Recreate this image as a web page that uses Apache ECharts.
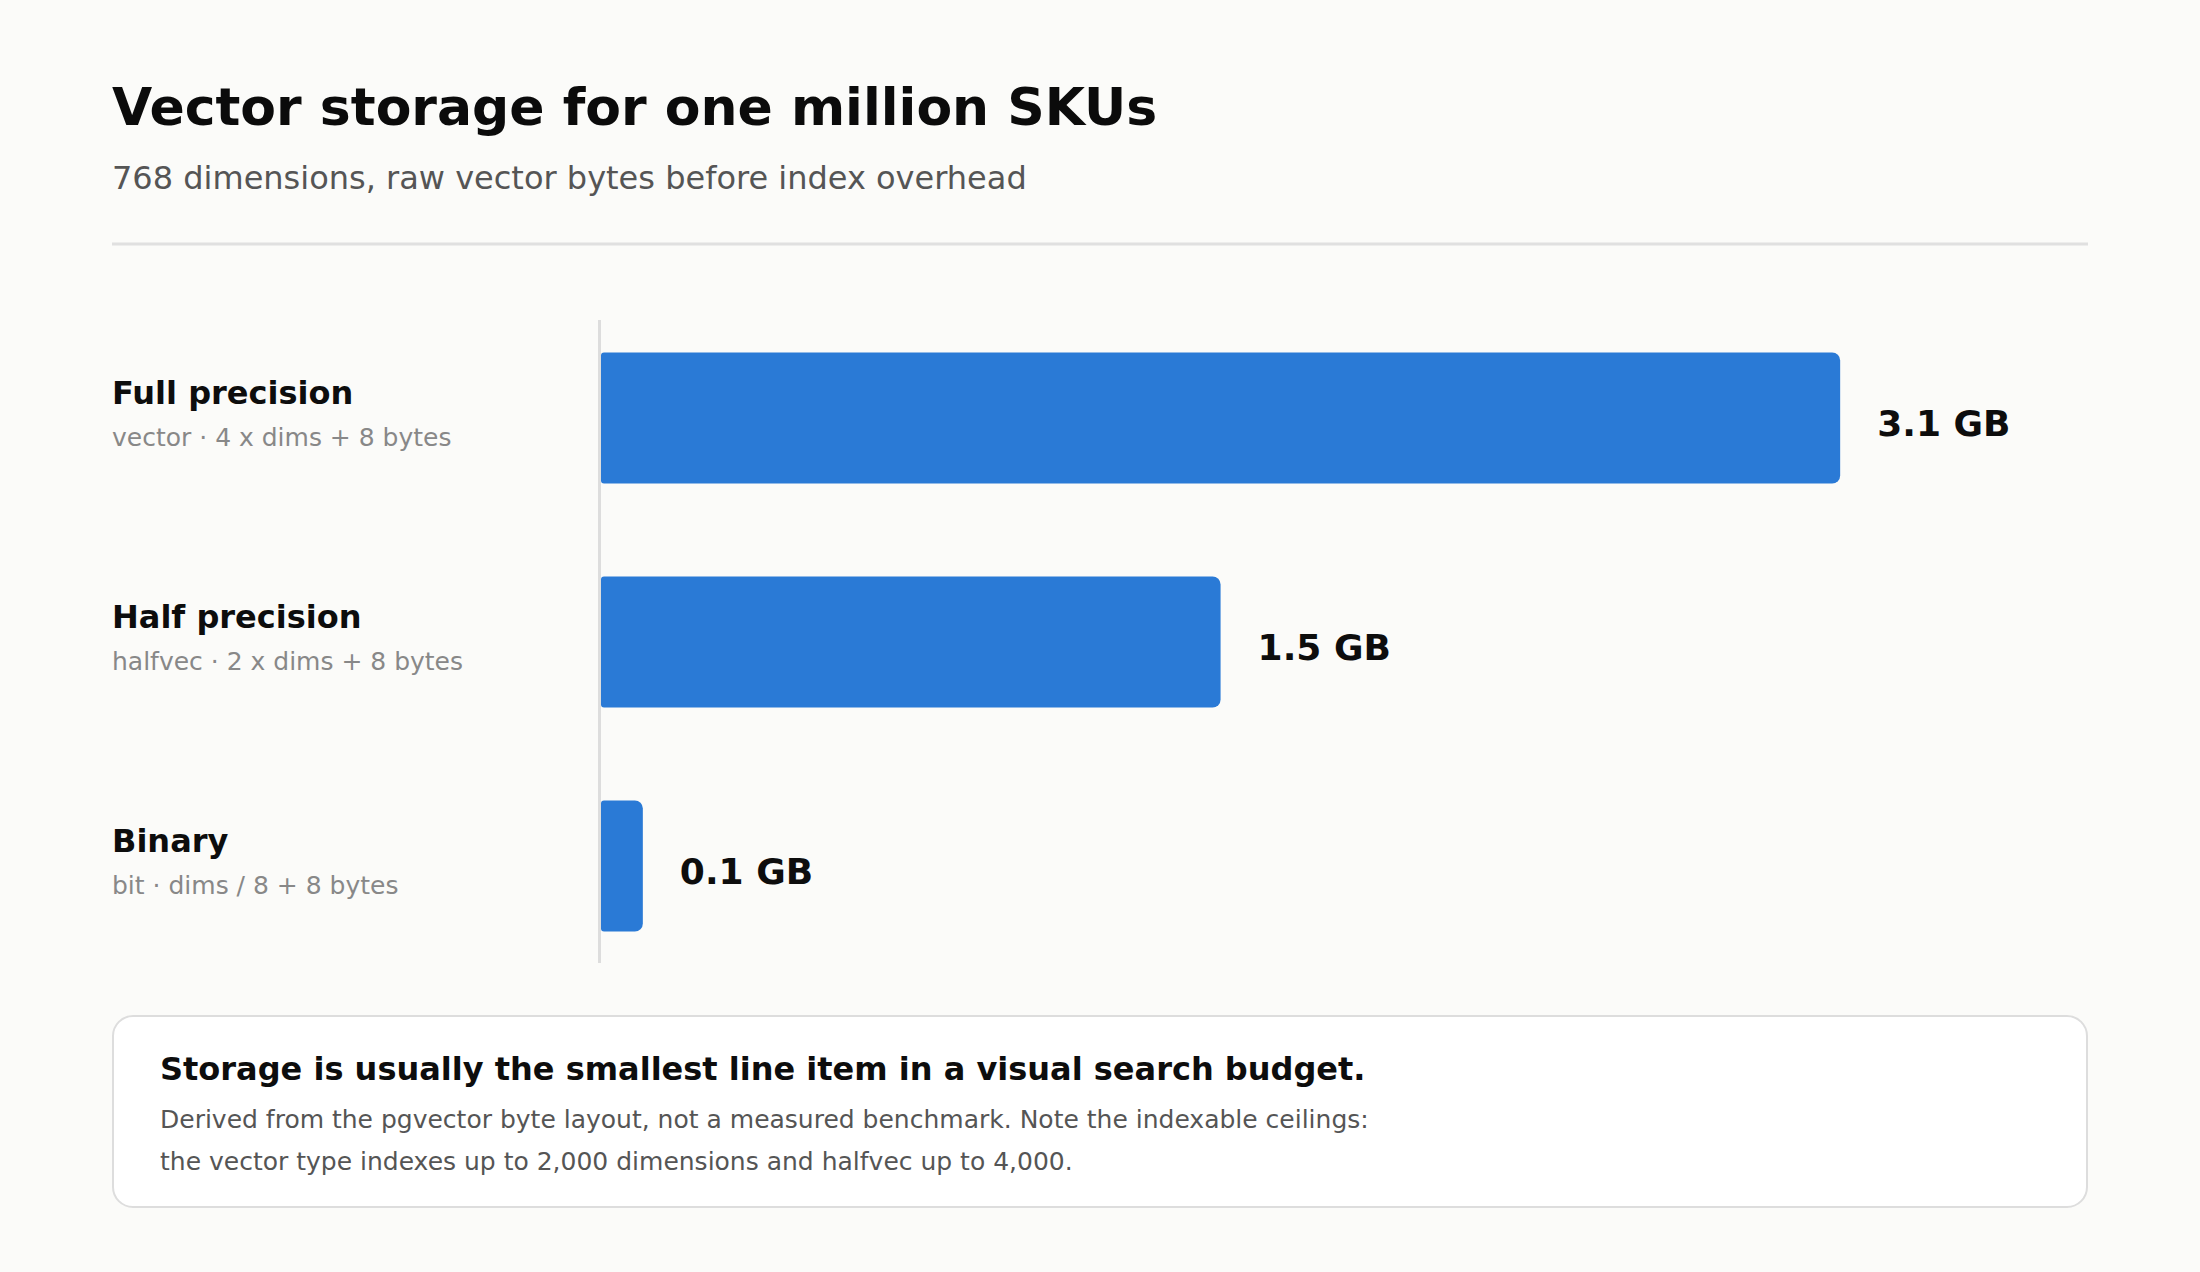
<!DOCTYPE html>
<html lang="en">

<head>
    <meta charset="UTF-8">
    <script src="https://cdn.jsdelivr.net/npm/echarts@6.0.0/dist/echarts.min.js"></script>
    <title>Vector storage</title>
    <style>
        body { margin: 0; background: #fbfbf9; }
    </style>
</head>

<body>
    <div id="main" style="width: 2200px;height:1272px;"></div>
    <script>
        // data
        var categories = ['Full precision', 'Half precision', 'Binary'];
        var formulas = ['vector · 4 x dims + 8 bytes', 'halfvec · 2 x dims + 8 bytes', 'bit · dims / 8 + 8 bytes'];
        var storageGB = [3.08, 1.54, 0.104];

        var font = '"DejaVu Sans", sans-serif';
        var myChart = echarts.init(document.getElementById('main'), null, { renderer: 'svg' });

        var option = {
            backgroundColor: '#fbfbf9',
            animation: false,
            textStyle: { fontFamily: font },
            grid: { left: 601, right: 112, top: 306, bottom: 294 },
            xAxis: {
                type: 'value',
                min: 0,
                max: Math.max.apply(null, storageGB) * 1.2,
                show: false
            },
            yAxis: {
                type: 'category',
                inverse: true,
                data: categories,
                axisLine: { show: false },
                axisTick: { show: false },
                axisLabel: {
                    margin: 489,
                    align: 'left',
                    formatter: function (v, i) {
                        return '{t|' + v + '}\n{s|' + formulas[i] + '}';
                    },
                    rich: {
                        t: { fontSize: 32, fontWeight: 'bold', color: '#0d0d0d', lineHeight: 39, fontFamily: font },
                        s: { fontSize: 25, color: '#888', lineHeight: 50, fontFamily: font }
                    }
                }
            },
            series: [{
                type: 'bar',
                data: storageGB,
                barWidth: 131,
                itemStyle: { color: '#2a7ad6', borderRadius: [3, 8, 8, 3] },
                label: {
                    show: true,
                    position: 'right',
                    distance: 37,
                    offset: [0, 5],
                    fontSize: 36,
                    fontWeight: 'bold',
                    color: '#0d0d0d',
                    fontFamily: font,
                    formatter: function (p) { return p.value.toFixed(1) + ' GB'; }
                }
            }],
            graphic: [
                { type: 'text', x: 112, y: 107, style: { text: 'Vector storage for one million SKUs', font: 'bold 52px ' + font, fill: '#0b0b0b', verticalAlign: 'middle' } },
                { type: 'text', x: 112, y: 177.5, style: { text: '768 dimensions, raw vector bytes before index overhead', font: '32px ' + font, fill: '#555', verticalAlign: 'middle' } },
                { type: 'line', shape: { x1: 112, y1: 244, x2: 2088, y2: 244 }, style: { stroke: '#e0e0e0', lineWidth: 3 } },
                { type: 'line', shape: { x1: 599.5, y1: 320, x2: 599.5, y2: 963 }, style: { stroke: '#dddddd', lineWidth: 3 } },
                { type: 'rect', shape: { x: 113, y: 1016, width: 1974, height: 191, r: 20 }, style: { fill: '#ffffff', stroke: '#dddddd', lineWidth: 2 } },
                { type: 'text', x: 160, y: 1069, style: { text: 'Storage is usually the smallest line item in a visual search budget.', font: 'bold 32px ' + font, fill: '#0d0d0d', verticalAlign: 'middle' } },
                { type: 'text', x: 160, y: 1119, style: { text: 'Derived from the pgvector byte layout, not a measured benchmark. Note the indexable ceilings:', font: '25px ' + font, fill: '#555', verticalAlign: 'middle' } },
                { type: 'text', x: 160, y: 1161, style: { text: 'the vector type indexes up to 2,000 dimensions and halfvec up to 4,000.', font: '25px ' + font, fill: '#555', verticalAlign: 'middle' } }
            ]
        };
        myChart.setOption(option);
    </script>
</body>

</html>
